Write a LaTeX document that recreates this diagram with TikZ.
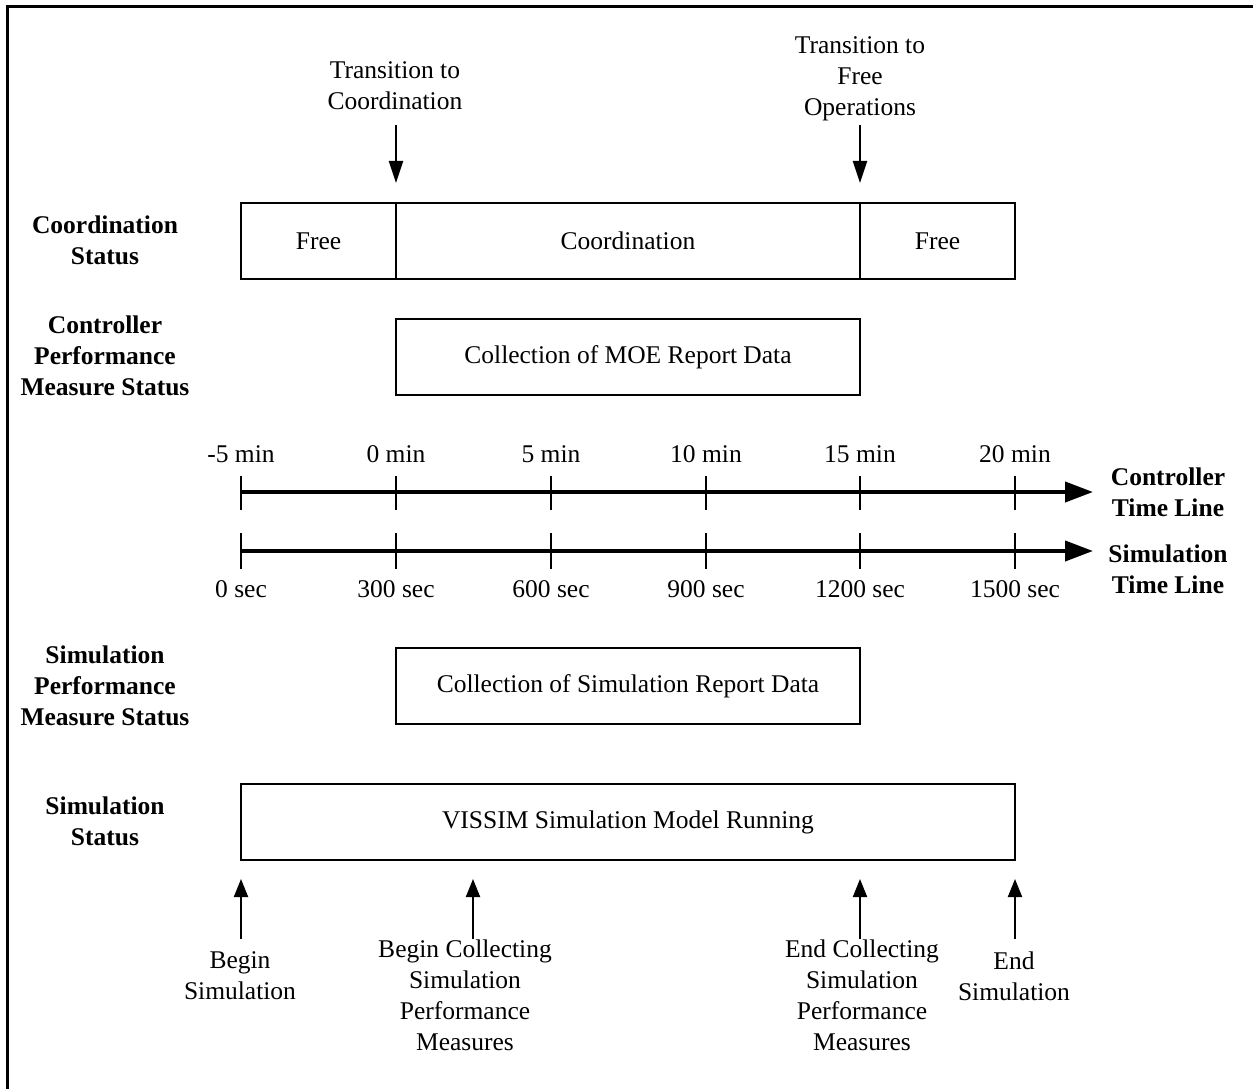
\documentclass[tikz,border=0pt]{standalone}
\usepackage{fontspec}
\setmainfont{Liberation Serif}
\usetikzlibrary{arrows.meta}
\begin{document}
\begin{tikzpicture}[x=1pt,y=-1pt,
  every node/.style={font=\fontsize{25.5}{31}\selectfont, inner sep=0pt, align=center},
  rowlabel/.style={font=\fontsize{25.5}{31}\selectfont\bfseries},
  statebox/.style={draw, line width=1.4pt, minimum height=76pt},
  timeline/.style={line width=4pt, -{Triangle[length=28pt,width=20pt]}},
  tick/.style={line width=1.4pt},
  downarrow/.style={line width=2pt, -{Triangle[length=22pt,width=14pt]}},
  uparrow/.style={line width=2pt, -{Triangle[length=18pt,width=14pt]}}
]
\useasboundingbox (0,0) rectangle (1253,1089);
\fill[white] (0,0) rectangle (1253,1089);
% frame
\draw[line width=3pt] (7,1089) -- (7,7) -- (1253,7);

% row labels
\node[rowlabel] (lcs)  at (105,240) {Coordination\\Status};
\node[rowlabel] (lcp)  at (105,356) {Controller\\Performance\\Measure Status};
\node[rowlabel] (lsp)  at (105,686) {Simulation\\Performance\\Measure Status};
\node[rowlabel] (lss)  at (105,821) {Simulation\\Status};

% coordination status boxes
\node[statebox, minimum width=155pt] (free1) at (318.5,241) {Free};
\node[statebox, minimum width=464pt] (coord) at (628,241) {Coordination};
\node[statebox, minimum width=155pt] (free2) at (937.5,241) {Free};

% transitions
\node (ttc) at (395,86) {Transition to\\Coordination};
\node (ttf) at (860,79) {Transition to\\Free\\Operations};
\coordinate (a1s) at (396,125);
\coordinate (a1e) at (396,183);
\coordinate (a2s) at (860,125);
\coordinate (a2e) at (860,183);
\draw[downarrow] (a1s) -- (a1e);
\draw[downarrow] (a2s) -- (a2e);

% performance measure boxes
\node[statebox, minimum width=464pt] (moe) at (628,357) {Collection of MOE Report Data};
\node[statebox, minimum width=464pt] (simrep) at (628,686) {Collection of Simulation Report Data};
\node[statebox, minimum width=774pt] (vissim) at (628,822) {VISSIM Simulation Model Running};

% time lines
\coordinate (c0) at (241,492);
\coordinate (c1) at (1093,492);
\coordinate (s0) at (241,551);
\coordinate (s1) at (1093,551);
\draw[timeline] (c0) -- (c1);
\draw[timeline] (s0) -- (s1);
\foreach \x/\m/\s in {241/-5 min/0 sec, 396/0 min/300 sec, 551/5 min/600 sec,
                      706/10 min/900 sec, 860/15 min/1200 sec, 1015/20 min/1500 sec}{
  \draw[tick] (\x,476) -- (\x,510);
  \draw[tick] (\x,533) -- (\x,569);
  \node at (\x,454) {\m};
  \node at (\x,589) {\s};
}
\node[rowlabel] (ctl) at (1168,492) {Controller\\Time Line};
\node[rowlabel] (stl) at (1168,569) {Simulation\\Time Line};

% events
\coordinate (b1) at (241,939);  \coordinate (t1) at (241,879);
\coordinate (b2) at (473,939);  \coordinate (t2) at (473,879);
\coordinate (b3) at (860,939);  \coordinate (t3) at (860,879);
\coordinate (b4) at (1015,939); \coordinate (t4) at (1015,879);
\draw[uparrow] (b1) -- (t1);
\draw[uparrow] (b2) -- (t2);
\draw[uparrow] (b3) -- (t3);
\draw[uparrow] (b4) -- (t4);
\node (bs)  at (240,976)  {Begin\\Simulation};
\node (bcs) at (465,995)  {Begin Collecting\\Simulation\\Performance\\Measures};
\node (ecs) at (862,995)  {End Collecting\\Simulation\\Performance\\Measures};
\node (es)  at (1014,976) {End\\Simulation};
\end{tikzpicture}
\end{document}
